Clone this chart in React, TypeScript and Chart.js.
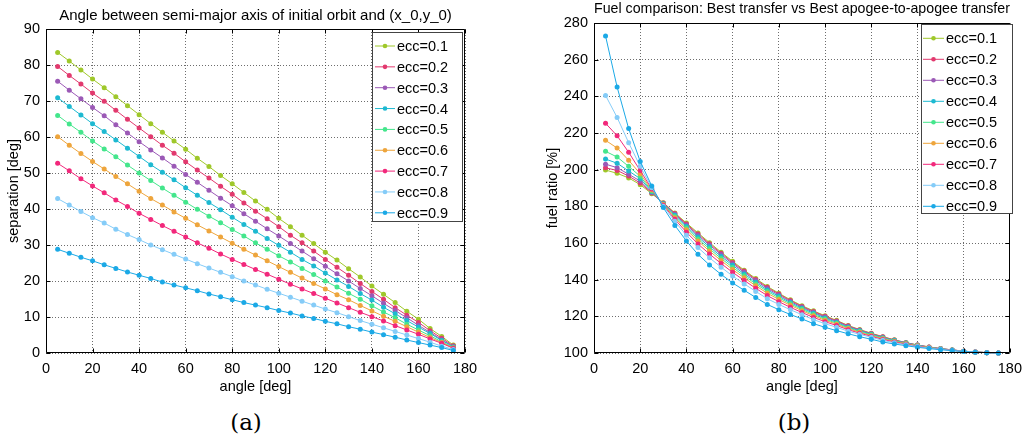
import React, { useEffect, useRef } from 'react';
import { Chart, registerables } from 'chart.js';

Chart.register(...registerables);

// ---------- data ----------
const angles = [5, 10, 15, 20, 25, 30, 35, 40, 45, 50, 55, 60, 65, 70, 75, 80, 85, 90, 95, 100, 105, 110, 115, 120, 125, 130, 135, 140, 145, 150, 155, 160, 165, 170, 175];

const eccLabels = ['ecc=0.1', 'ecc=0.2', 'ecc=0.3', 'ecc=0.4', 'ecc=0.5', 'ecc=0.6', 'ecc=0.7', 'ecc=0.8', 'ecc=0.9'];

// (a) separation [deg]
const sepEcc01 = [83.5, 81.1, 78.6, 76.1, 73.7, 71.2, 68.7, 66.2, 63.7, 61.3, 58.9, 56.6, 54.1, 51.8, 49.3, 47.0, 44.6, 42.2, 39.9, 37.4, 35.1, 32.7, 30.4, 28.0, 25.8, 23.4, 21.1, 18.6, 16.3, 14.0, 11.6, 9.4, 6.8, 4.6, 2.2];
const sepEcc02 = [79.6, 77.1, 74.7, 72.2, 69.9, 67.4, 64.9, 62.5, 60.1, 57.7, 55.5, 53.1, 50.8, 48.6, 46.3, 44.1, 41.7, 39.4, 37.3, 35.1, 32.7, 30.6, 28.3, 26.0, 23.8, 21.6, 19.3, 17.1, 14.9, 12.6, 10.5, 8.5, 6.2, 4.1, 2.0];
const sepEcc03 = [75.5, 73.0, 70.6, 68.2, 65.9, 63.4, 61.1, 58.7, 56.4, 54.2, 51.9, 49.6, 47.4, 45.2, 43.0, 40.9, 38.7, 36.6, 34.5, 32.5, 30.4, 28.3, 26.2, 24.1, 22.0, 20.0, 17.9, 15.9, 13.8, 11.8, 9.8, 7.7, 5.7, 3.7, 1.8];
const sepEcc04 = [70.9, 68.5, 66.1, 63.7, 61.5, 59.2, 56.9, 54.6, 52.3, 50.2, 48.1, 45.9, 43.8, 41.8, 39.8, 37.7, 35.7, 33.8, 31.8, 29.9, 28.0, 26.0, 24.2, 22.2, 20.3, 18.5, 16.5, 14.7, 12.7, 10.9, 9.0, 7.2, 5.4, 3.5, 1.7];
const sepEcc05 = [66.0, 63.6, 61.3, 58.9, 56.7, 54.5, 52.2, 50.0, 47.9, 45.8, 43.8, 41.9, 39.9, 38.0, 36.2, 34.3, 32.5, 30.6, 28.8, 27.0, 25.3, 23.5, 21.8, 20.0, 18.3, 16.6, 14.9, 13.1, 11.4, 9.8, 8.0, 6.4, 4.8, 3.1, 1.5];
const sepEcc06 = [60.1, 57.7, 55.4, 53.2, 51.1, 49.0, 47.0, 44.9, 42.9, 41.1, 39.2, 37.4, 35.6, 33.9, 32.2, 30.5, 28.8, 27.2, 25.6, 24.0, 22.4, 20.8, 19.3, 17.8, 16.2, 14.8, 13.2, 11.7, 10.2, 8.8, 7.3, 5.8, 4.3, 2.9, 1.4];
const sepEcc07 = [52.7, 50.6, 48.4, 46.4, 44.5, 42.5, 40.7, 38.8, 37.1, 35.4, 33.8, 32.2, 30.6, 29.1, 27.5, 26.0, 24.6, 23.2, 21.9, 20.5, 19.1, 17.8, 16.5, 15.2, 13.9, 12.6, 11.3, 10.1, 8.9, 7.6, 6.4, 5.2, 3.9, 2.7, 1.3];
const sepEcc08 = [42.9, 41.1, 39.3, 37.6, 36.1, 34.4, 32.9, 31.5, 30.0, 28.7, 27.4, 26.1, 24.8, 23.6, 22.4, 21.2, 20.0, 18.9, 17.7, 16.6, 15.5, 14.4, 13.3, 12.2, 11.2, 10.1, 9.0, 8.0, 7.0, 6.0, 5.0, 4.0, 3.0, 1.9, 1.0];
const sepEcc09 = [28.8, 27.7, 26.6, 25.6, 24.5, 23.5, 22.5, 21.6, 20.7, 19.7, 18.9, 18.1, 17.3, 16.4, 15.6, 14.8, 14.0, 13.3, 12.6, 11.8, 11.1, 10.3, 9.6, 8.8, 8.1, 7.3, 6.6, 5.8, 5.1, 4.4, 3.6, 2.9, 2.2, 1.5, 0.7];

// (b) fuel ratio [%]
const fuelEcc01 = [199.8, 198.0, 195.5, 191.8, 186.9, 182.0, 176.4, 170.9, 165.5, 160.2, 155.0, 150.0, 145.2, 140.6, 136.3, 132.6, 129.0, 125.8, 123.0, 120.3, 117.8, 115.0, 112.8, 110.8, 108.9, 107.2, 105.7, 104.4, 103.3, 102.4, 101.7, 101.0, 100.5, 100.2, 100.0];
const fuelEcc02 = [201.0, 199.6, 196.5, 192.7, 187.3, 181.8, 176.1, 170.4, 164.9, 159.6, 154.4, 149.4, 144.7, 140.1, 135.8, 132.2, 128.6, 125.4, 122.7, 120.0, 117.5, 114.8, 112.6, 110.6, 108.8, 107.1, 105.6, 104.3, 103.3, 102.4, 101.7, 101.0, 100.5, 100.2, 100.0];
const fuelEcc03 = [203.0, 201.1, 197.5, 193.8, 187.6, 181.6, 175.7, 169.8, 164.2, 158.9, 153.7, 148.7, 144.0, 139.5, 135.2, 131.6, 128.1, 125.0, 122.2, 119.6, 117.2, 114.5, 112.4, 110.4, 108.6, 106.9, 105.5, 104.3, 103.2, 102.3, 101.7, 101.0, 100.5, 100.2, 100.0];
const fuelEcc04 = [205.8, 203.5, 199.3, 195.1, 188.0, 181.4, 175.1, 169.0, 163.3, 157.9, 152.7, 147.8, 143.1, 138.6, 134.4, 130.9, 127.5, 124.4, 121.7, 119.1, 116.7, 114.1, 112.1, 110.2, 108.3, 106.8, 105.4, 104.2, 103.1, 102.3, 101.6, 101.0, 100.5, 100.2, 100.0];
const fuelEcc05 = [210.0, 206.9, 201.8, 196.4, 188.4, 181.2, 174.5, 168.2, 162.2, 156.8, 151.6, 146.7, 142.1, 137.7, 133.6, 130.1, 126.8, 123.8, 121.0, 118.5, 116.2, 113.7, 111.7, 109.9, 108.1, 106.6, 105.2, 104.0, 103.0, 102.2, 101.6, 100.9, 100.5, 100.2, 100.0];
const fuelEcc06 = [216.0, 211.8, 205.1, 197.8, 188.9, 181.0, 173.8, 167.2, 161.1, 155.6, 150.4, 145.5, 141.0, 136.7, 132.6, 129.2, 126.0, 123.1, 120.3, 117.9, 115.7, 113.3, 111.3, 109.5, 107.8, 106.3, 105.1, 103.9, 103.0, 102.2, 101.5, 100.9, 100.5, 100.2, 100.0];
const fuelEcc07 = [225.3, 218.5, 209.5, 199.5, 189.5, 180.6, 172.9, 165.9, 159.5, 154.0, 148.8, 144.0, 139.6, 135.3, 131.3, 128.0, 124.9, 122.1, 119.4, 117.1, 115.0, 112.7, 110.8, 109.1, 107.4, 106.0, 104.8, 103.7, 102.8, 102.1, 101.5, 100.9, 100.5, 100.2, 100.0];
const fuelEcc08 = [240.5, 228.5, 214.7, 201.8, 190.2, 180.1, 171.8, 164.2, 157.5, 151.9, 146.8, 142.0, 137.7, 133.6, 129.6, 126.5, 123.6, 120.9, 118.2, 116.0, 114.0, 111.9, 110.2, 108.6, 106.9, 105.6, 104.5, 103.5, 102.7, 102.0, 101.4, 100.9, 100.5, 100.2, 100.0];
const fuelEcc09 = [272.9, 245.1, 222.4, 204.5, 191.1, 179.3, 169.6, 161.1, 153.8, 148.0, 142.9, 138.2, 134.2, 130.3, 126.5, 123.6, 121.0, 118.6, 116.0, 114.0, 112.2, 110.5, 108.9, 107.5, 106.0, 104.9, 104.0, 103.1, 102.4, 101.8, 101.3, 100.8, 100.4, 100.2, 100.0];

const sepSeries = [sepEcc01, sepEcc02, sepEcc03, sepEcc04, sepEcc05, sepEcc06, sepEcc07, sepEcc08, sepEcc09];
const fuelSeries = [fuelEcc01, fuelEcc02, fuelEcc03, fuelEcc04, fuelEcc05, fuelEcc06, fuelEcc07, fuelEcc08, fuelEcc09];

// ---------- styles ----------
const eccColors = ['#9FC82A', '#E2396E', '#9B59B6', '#1DB9D1', '#44E68C', '#EEA53C', '#F2287B', '#85CCF8', '#1BA9E6'];
const SANS = "'Liberation Sans', Arial, sans-serif";

// ---------- plugins ----------
const framePlugin = {
  id: 'frame',
  afterDatasetsDraw(chart: any) {
    const { ctx, chartArea: a, scales } = chart;
    const L = Math.round(a.left) + 0.5;
    const R = Math.round(a.right) - 0.5;
    const T = Math.round(a.top) + 0.5;
    const B = Math.round(a.bottom) - 0.5;
    ctx.save();
    ctx.strokeStyle = '#000';
    ctx.lineWidth = 1;
    ctx.setLineDash([]);
    ctx.beginPath();
    ctx.rect(L, T, R - L, B - T);
    const tl = 4;
    scales.x.ticks.forEach((t: any) => {
      const px = Math.round(scales.x.getPixelForValue(t.value)) + 0.5;
      ctx.moveTo(px, B); ctx.lineTo(px, B - tl);
      ctx.moveTo(px, T); ctx.lineTo(px, T + tl);
    });
    scales.y.ticks.forEach((t: any) => {
      const py = Math.round(scales.y.getPixelForValue(t.value)) + 0.5;
      ctx.moveTo(L, py); ctx.lineTo(L + tl, py);
      ctx.moveTo(R, py); ctx.lineTo(R - tl, py);
    });
    ctx.stroke();
    ctx.restore();
  },
};

const eccLegendPlugin = {
  id: 'eccLegend',
  afterDraw(chart: any, _args: any, opts: any) {
    const { ctx } = chart;
    const { x, y, w, h, firstY, step, lineX0, lineX1, textX } = opts;
    ctx.save();
    ctx.fillStyle = '#fff';
    ctx.fillRect(x, y, w, h);
    ctx.strokeStyle = '#444';
    ctx.lineWidth = 1;
    ctx.strokeRect(x + 0.5, y + 0.5, w, h);
    ctx.font = `14.5px ${SANS}`;
    ctx.textBaseline = 'middle';
    ctx.textAlign = 'left';
    chart.data.datasets.forEach((ds: any, i: number) => {
      const cy = firstY + i * step;
      ctx.strokeStyle = ds.borderColor;
      ctx.beginPath();
      ctx.moveTo(lineX0, cy);
      ctx.lineTo(lineX1, cy);
      ctx.stroke();
      ctx.fillStyle = ds.borderColor;
      ctx.beginPath();
      ctx.arc((lineX0 + lineX1) / 2, cy, 2.3, 0, Math.PI * 2);
      ctx.fill();
      ctx.fillStyle = '#000';
      ctx.fillText(ds.label, textX, cy + 1);
    });
    ctx.restore();
  },
};

function makeDatasets(series: number[][]) {
  return series.map((vals, i) => ({
    label: eccLabels[i],
    data: vals.map((v, j) => ({ x: angles[j], y: v })),
    borderColor: eccColors[i],
    backgroundColor: eccColors[i],
    borderWidth: 1,
    pointRadius: 2.5,
    pointBorderWidth: 0,
    pointBackgroundColor: eccColors[i],
    tension: 0,
    clip: false as any,
    order: 8 - i,
  }));
}

interface PanelProps {
  title: string;
  yTitle: string;
  series: number[][];
  yMin: number;
  yMax: number;
  yStep: number;
  yAxisWidth: number;
  padRight: number;
  titlePad: { top: number; bottom: number };
  yTitlePad: number;
  legend: any;
  left: number;
  width: number;
}

function Panel(p: PanelProps) {
  const ref = useRef<HTMLCanvasElement>(null);
  useEffect(() => {
    if (!ref.current) return;
    const chart = new Chart(ref.current, {
      type: 'line',
      data: { datasets: makeDatasets(p.series) as any },
      options: {
        animation: false,
        responsive: true,
        maintainAspectRatio: false,
        layout: { padding: { left: 0, right: p.padRight, top: 0, bottom: 0 } },
        plugins: {
          legend: { display: false },
          tooltip: { enabled: false },
          title: {
            display: true,
            text: p.title,
            fullSize: false,
            color: '#000',
            font: { family: SANS, size: 15, weight: 'normal' as any, lineHeight: 1.2 },
            padding: p.titlePad,
          },
          eccLegend: p.legend,
        } as any,
        scales: {
          x: {
            type: 'linear',
            min: 0,
            max: 180,
            afterFit: (s: any) => { s.height = 47; },
            ticks: { stepSize: 20, color: '#000', padding: 7, font: { family: SANS, size: 14.5 }, maxRotation: 0 },
            grid: { color: 'rgba(60,60,60,0.75)', lineWidth: 1, drawTicks: false },
            border: { display: false, dash: [1, 2] },
            title: { display: true, text: 'angle [deg]', color: '#000', font: { family: SANS, size: 14.5, lineHeight: 1.2 }, padding: { top: 0, bottom: 4 } },
          },
          y: {
            type: 'linear',
            min: p.yMin,
            max: p.yMax,
            afterFit: (s: any) => { s.width = p.yAxisWidth; },
            ticks: { stepSize: p.yStep, color: '#000', padding: 6, font: { family: SANS, size: 14.5 } },
            grid: { color: 'rgba(60,60,60,0.75)', lineWidth: 1, drawTicks: false },
            border: { display: false, dash: [1, 2] },
            title: { display: true, text: p.yTitle, color: '#000', font: { family: SANS, size: 14.5, lineHeight: 1.2 }, padding: { top: p.yTitlePad, bottom: 0 } },
          },
        },
      },
      plugins: [framePlugin, eccLegendPlugin],
    });
    return () => chart.destroy();
  }, []);
  return (
    <div style={{ position: 'absolute', left: p.left, top: 0, width: p.width, height: 400 }}>
      <canvas ref={ref} />
    </div>
  );
}

const captionStyle: React.CSSProperties = {
  position: 'absolute',
  top: 407,
  width: 100,
  height: 30,
  lineHeight: '30px',
  textAlign: 'center',
  fontFamily: "'DejaVu Serif', serif",
  fontSize: 23,
  color: '#000',
};

export default function App() {
  return (
    <div style={{ position: 'absolute', left: 0, top: 0, width: 1029, height: 437, background: '#fff', overflow: 'hidden' }}>
      <Panel
        title="Angle between semi-major axis of initial orbit and (x_0,y_0)"
        yTitle="separation [deg]"
        series={sepSeries}
        yMin={0}
        yMax={90}
        yStep={10}
        yAxisWidth={46}
        padRight={55}
        titlePad={{ top: 6.5, bottom: 4.5 }}
        yTitlePad={5.3}
        legend={{ x: 372, y: 32, w: 90, h: 189, firstY: 46, step: 20.85, lineX0: 375, lineX1: 395, textX: 397 }}
        left={0}
        width={520}
      />
      <Panel
        title="Fuel comparison: Best transfer vs Best apogee-to-apogee transfer"
        yTitle="fuel ratio [%]"
        series={fuelSeries}
        yMin={100}
        yMax={280}
        yStep={20}
        yAxisWidth={74}
        padRight={16}
        titlePad={{ top: 0, bottom: 5 }}
        yTitlePad={24.3}
        legend={{ x: 401, y: 24, w: 91, h: 189, firstY: 38.3, step: 21, lineX0: 403, lineX1: 424, textX: 426 }}
        left={520}
        width={509}
      />
      <div style={{ ...captionStyle, left: 196 }}>(a)</div>
      <div style={{ ...captionStyle, left: 744 }}>(b)</div>
    </div>
  );
}
